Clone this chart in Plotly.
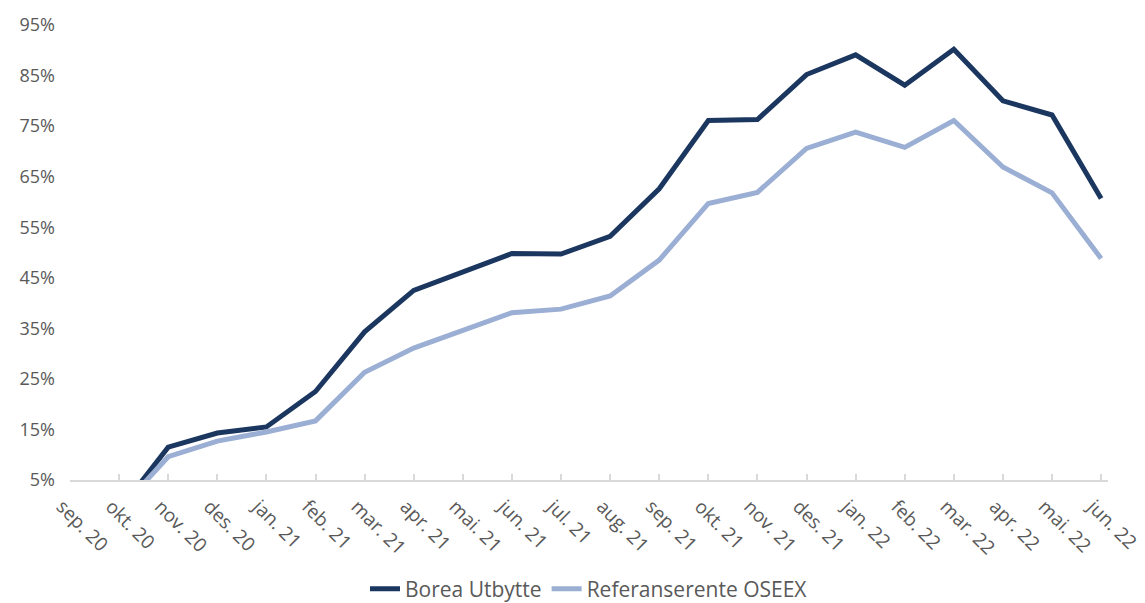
import plotly.graph_objects as go

months = ["sep. 20", "okt. 20", "nov. 20", "des. 20", "jan. 21", "feb. 21", "mar. 21",
          "apr. 21", "mai. 21", "jun. 21", "jul. 21", "aug. 21", "sep. 21", "okt. 21",
          "nov. 21", "des. 21", "jan. 22", "feb. 22", "mar. 22", "apr. 22", "mai. 22", "jun. 22"]

# values start at okt. 20
borea = [-1.0, 11.5, 14.3, 15.5, 22.5, 34.3, 42.5, 46.1, 49.8, 49.7, 53.2, 62.6,
         76.1, 76.3, 85.2, 89.1, 83.1, 90.2, 80.0, 77.2, 60.7]
oseex = [-1.0, 9.6, 12.7, 14.5, 16.7, 26.3, 31.1, 34.6, 38.1, 38.8, 41.4, 48.5,
         59.7, 61.9, 70.6, 73.8, 70.8, 76.1, 66.9, 61.8, 48.8]

y_ticks = [5, 15, 25, 35, 45, 55, 65, 75, 85, 95]

x_idx = list(range(len(months)))
x_data = x_idx[1:]

FONT = "Open Sans"
GREY = "#595959"

fig = go.Figure()
fig.add_trace(go.Scatter(x=x_data, y=borea, mode="lines", name="Borea Utbytte",
                         line=dict(color="#1B375F", width=5)))
fig.add_trace(go.Scatter(x=x_data, y=oseex, mode="lines", name="Referanserente OSEEX",
                         line=dict(color="#9BAED3", width=5)))

fig.update_layout(
    width=1145, height=603,
    margin=dict(l=70, r=37, t=25, b=123, autoexpand=False),
    plot_bgcolor="white", paper_bgcolor="white",
    font=dict(family=FONT, size=18, color=GREY),
    showlegend=True,
    legend=dict(orientation="h", x=0.5, xanchor="center", y=-0.240, yanchor="middle",
                font=dict(family=FONT, size=21, color=GREY),
                tracegroupgap=0),
)
fig.update_xaxes(
    range=[0, 21.14], tickmode="array", tickvals=x_idx, ticktext=months,
    tickangle=45, showgrid=False, zeroline=False, automargin=False,
    showline=True, linecolor="#D9D9D9", linewidth=2,
    ticks="inside", ticklen=6, tickcolor="#D9D9D9", tickwidth=2,
    ticklabeloverflow="allow", ticklabelstandoff=6, ticklabelshift=-8,
    tickfont=dict(family=FONT, size=19, color=GREY),
)
fig.update_yaxes(
    range=[5, 95], tickmode="array", tickvals=y_ticks,
    ticktext=[f"{v}%" for v in y_ticks], automargin=False,
    showgrid=False, zeroline=False, showline=False, ticks="",
    ticklabelstandoff=14,
    tickfont=dict(family=FONT, size=18, color=GREY),
)

fig.write_html(
    "out.html",
    config={"displayModeBar": False},
    post_script="document.body.style.margin='0';document.body.style.overflow='hidden';",
)
